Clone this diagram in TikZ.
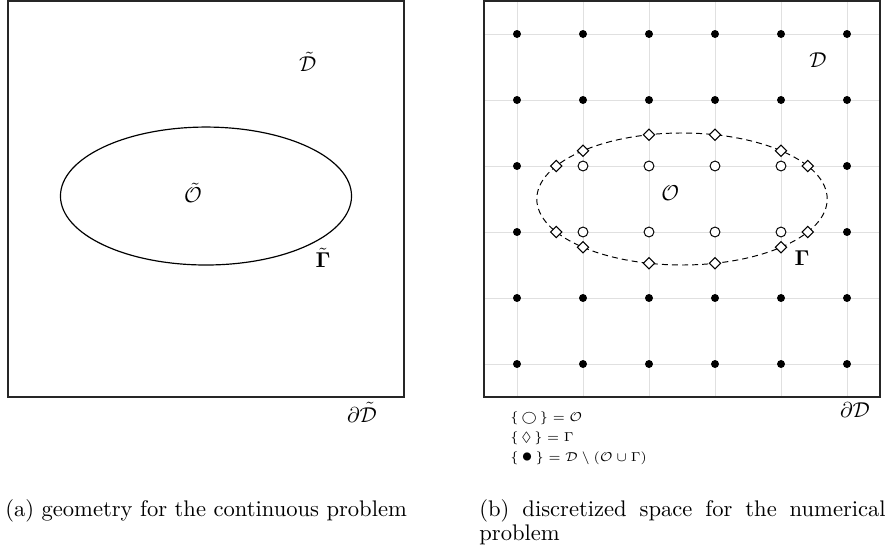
\documentclass[tikz,border=0pt]{standalone}
\usepackage{amsmath,amssymb,bm}
\usetikzlibrary{shapes.geometric}
\begin{document}
\begin{tikzpicture}[x=30.7pt,y=30.7pt,
  frame/.style={draw=black!85,line width=0.6pt},
  gridline/.style={draw=black!12,line width=0.4pt},
  fdot/.style={circle,fill=black,inner sep=0pt,minimum size=3.7pt},
  odot/.style={circle,draw=black,fill=white,inner sep=0pt,minimum size=4.6pt,line width=0.45pt},
  dia/.style={diamond,draw=black,fill=white,inner sep=0pt,minimum size=5.4pt,line width=0.45pt},
  lbl/.style={inner sep=0pt},
  leg/.style={anchor=west,inner sep=0pt,font=\fontsize{6.2}{7.5}\selectfont},
  captext/.style={anchor=base west,inner sep=0pt,font=\fontsize{10.5}{12.5}\selectfont}]
\useasboundingbox (-7.3333,-2.2424) rectangle (6.1212,6.0152);
% ---- left panel ----
\draw[frame] (-7.212,0) rectangle (-1.212,6);
\draw[line width=0.55pt] (-4.212,3.045) ellipse [x radius=2.205, y radius=1.045];
\node[lbl] (Ot) at (-4.41,3.09) {$\tilde{\mathcal{O}}$};
\node[lbl] (Gt) at (-2.44,2.11) {$\tilde{\bm{\Gamma}}$};
\node[lbl] (Dt) at (-2.67,5.08) {$\tilde{\mathcal{D}}$};
\node[lbl] (dDt) at (-1.85,-0.23) {$\partial\tilde{\mathcal{D}}$};
% ---- right panel ----
\foreach \k in {0.5,1.5,...,5.5}{
  \draw[gridline] (\k,0) -- (\k,6);
  \draw[gridline] (0,\k) -- (6,\k);
}
\draw[frame] (0,0) rectangle (6,6);
\draw[line width=0.45pt,dash pattern=on 2.8pt off 1.9pt] (3,3) ellipse [x radius=2.2, y radius=1];
\foreach \i in {0,...,5}{\foreach \j in {0,...,5}{
  \pgfmathtruncatemacro\inside{((\j==2)||(\j==3))&&(\i>0)&&(\i<5)}
  \ifnum\inside=1
    \node[odot] (p\i\j) at (\i+0.5,\j+0.5) {};
  \else
    \node[fdot] (p\i\j) at (\i+0.5,\j+0.5) {};
  \fi
}}
\foreach \x/\y [count=\n] in {1.0947/2.5,1.0947/3.5,4.9053/2.5,4.9053/3.5,
  1.5/2.2685,1.5/3.7315,4.5/2.2685,4.5/3.7315,
  2.5/2.0262,2.5/3.9738,3.5/2.0262,3.5/3.9738}{
  \node[dia] (g\n) at (\x,\y) {};
}
\node[lbl] (O) at (2.82,3.09) {$\mathcal{O}$};
\node[lbl] (G) at (4.82,2.11) {$\bm{\Gamma}$};
\node[lbl] (D) at (5.06,5.11) {$\mathcal{D}$};
\node[lbl] (dD) at (5.62,-0.2) {$\partial\mathcal{D}$};
% legend
\node[leg] (l1) at (0.394,-0.318) {$\{\,\bigcirc\,\}=\mathcal{O}$};
\node[leg] (l2) at (0.394,-0.621) {$\{\,\Diamond\,\}=\Gamma$};
\node[leg] (l3) at (0.394,-0.924) {$\{\,\text{\scalebox{1.4}{$\bullet$}}\,\}=\mathcal{D}\setminus(\mathcal{O}\cup\Gamma)$};
% captions
\node[captext] (ca) at (-7.26,-1.818) {(a) geometry for the continuous problem};
\node[captext] (cb) at (-0.076,-1.818) {\makebox[189pt][s]{(b) discretized space for the numerical}};
\node[captext] (cb2) at (-0.076,-2.167) {problem};
\end{tikzpicture}
\end{document}
